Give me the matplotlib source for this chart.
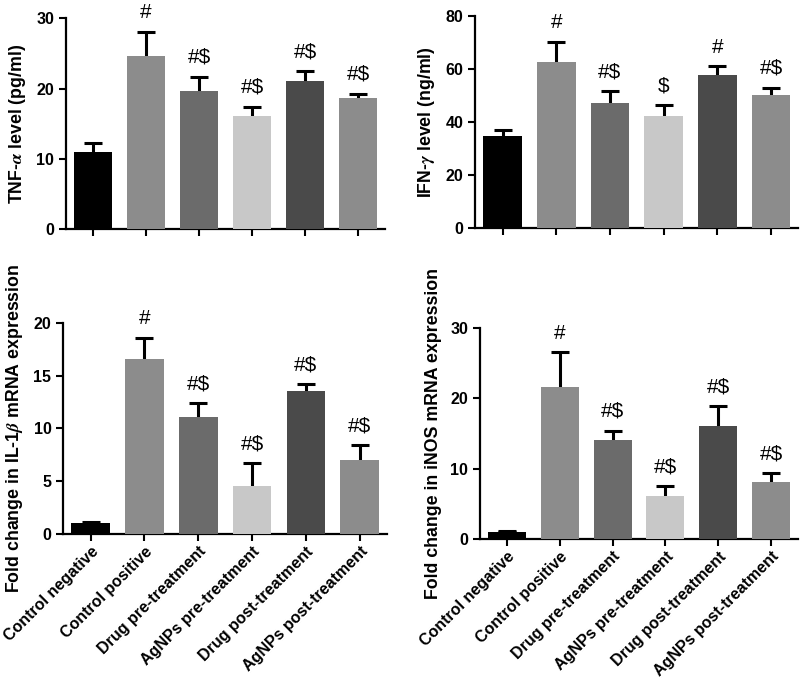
"""Four-panel cytokine bar chart (TNF-a, IFN-g, IL-1b, iNOS)."""

import matplotlib
matplotlib.use("Agg")
import matplotlib.pyplot as plt

plt.rcParams["font.family"] = ["Liberation Sans", "DejaVu Sans"]
plt.rcParams["font.weight"] = "bold"
plt.rcParams["mathtext.fontset"] = "stix"

# %% data
groups = [
    "Control negative",
    "Control positive",
    "Drug pre-treatment",
    "AgNPs pre-treatment",
    "Drug post-treatment",
    "AgNPs post-treatment",
]
bar_colors = ["#000000", "#8c8c8c", "#6b6b6b", "#c8c8c8", "#4a4a4a", "#8c8c8c"]

tnf_mean = [11.0, 24.6, 19.6, 16.1, 21.1, 18.6]
tnf_err = [1.3, 3.5, 2.1, 1.3, 1.4, 0.7]
tnf_sig = ["", "#", "#$", "#$", "#$", "#$"]

ifn_mean = [34.7, 62.4, 47.2, 42.3, 57.6, 50.3]
ifn_err = [2.1, 7.9, 4.3, 3.9, 3.3, 2.5]
ifn_sig = ["", "#", "#$", "$", "#", "#$"]

il1b_mean = [1.05, 16.6, 11.1, 4.6, 13.5, 7.0]
il1b_err = [0.1, 2.0, 1.3, 2.1, 0.7, 1.4]
il1b_sig = ["", "#", "#$", "#$", "#$", "#$"]

inos_mean = [1.1, 21.6, 14.1, 6.1, 16.1, 8.1]
inos_err = [0.1, 4.9, 1.3, 1.4, 2.8, 1.3]
inos_sig = ["", "#", "#$", "#$", "#$", "#$"]

panels = [
    # (axes rect, means, errs, sig, ylim, yticks, ylabel, show xlabels)
    ([0.0825, 0.662, 0.399, 0.311], tnf_mean, tnf_err, tnf_sig,
     30, [0, 10, 20, 30], r"TNF-$\alpha$ level (pg/ml)", False),
    ([0.594, 0.664, 0.404, 0.3127], ifn_mean, ifn_err, ifn_sig,
     80, [0, 20, 40, 60, 80], r"IFN-$\gamma$ level (ng/ml)", False),
    ([0.079, 0.212, 0.405, 0.312], il1b_mean, il1b_err, il1b_sig,
     20, [0, 5, 10, 15, 20], r"Fold change in IL-1$\beta$ mRNA expression", True),
    ([0.600, 0.2046, 0.3975, 0.312], inos_mean, inos_err, inos_sig,
     30, [0, 10, 20, 30], "Fold change in iNOS mRNA expression", True),
]

fig = plt.figure(figsize=(8.0, 6.78), dpi=100)
x = list(range(len(groups)))

for rect, means, errs, sig, ytop, yticks, ylabel, show_x in panels:
    ax = fig.add_axes(rect)
    ax.bar(x, means, width=0.72, color=bar_colors, zorder=3)
    ax.errorbar(x, means, yerr=errs, fmt="none", ecolor="black",
                elinewidth=2.2, capsize=6.5, capthick=2.2, zorder=2)
    for xi, m, e, s in zip(x, means, errs, sig):
        if s:
            ax.annotate(s, (xi, m + e), xytext=(0, 10), textcoords="offset points",
                        ha="center", va="baseline", fontsize=15, fontweight="normal")
    ax.set_xlim(-0.51, 5.51)
    ax.set_ylim(0, ytop)
    ax.set_yticks(yticks)
    ax.set_xticks(x)
    if show_x:
        ax.set_xticklabels(groups, rotation=45, ha="right", rotation_mode="anchor",
                           fontsize=10, fontweight="bold")
    else:
        ax.set_xticklabels([])
    ax.set_ylabel(ylabel, fontsize=12.8, fontweight="bold", labelpad=6)
    for side in ("top", "right"):
        ax.spines[side].set_visible(False)
    for side in ("left", "bottom"):
        ax.spines[side].set_linewidth(1.6)
    ax.tick_params(direction="out", length=5, width=1.5, labelsize=11.5)
    ax.tick_params(axis="x", pad=2)
    for lab in ax.get_yticklabels():
        lab.set_fontweight("bold")

fig.savefig("out.png", dpi=100)
